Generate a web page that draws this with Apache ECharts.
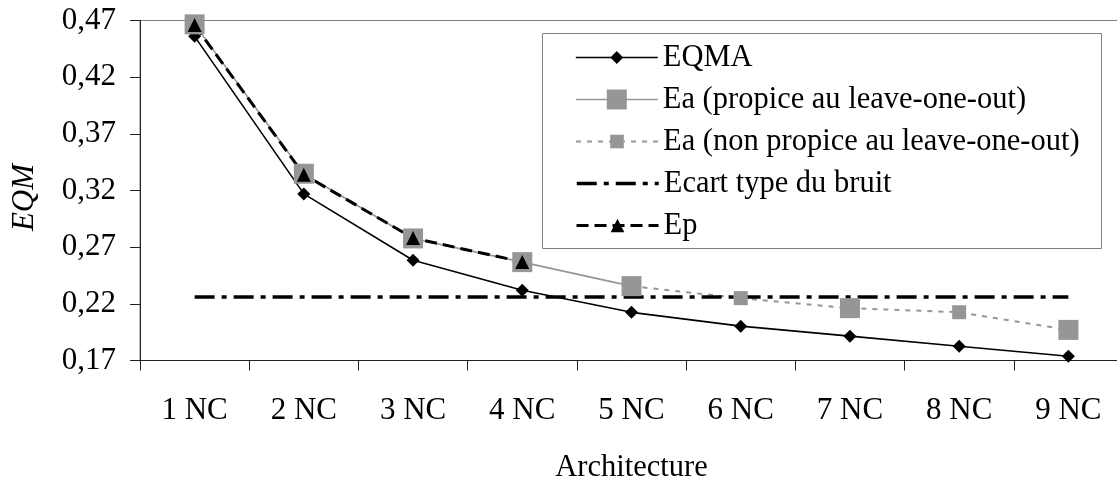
<!DOCTYPE html>
<html>
<head>
<meta charset="utf-8">
<script src="https://cdn.jsdelivr.net/npm/echarts@6/dist/echarts.min.js"></script>
<style>
  html, body { margin: 0; padding: 0; background: #fff; }
  #chart { width: 1117px; height: 482px; }
</style>
</head>
<body>
<div id="chart"></div>
<script>
// ---- data ----
const categories = ['1 NC', '2 NC', '3 NC', '4 NC', '5 NC', '6 NC', '7 NC', '8 NC', '9 NC'];
const eqma = [0.456, 0.317, 0.2585, 0.232, 0.2125, 0.2003, 0.1915, 0.1826, 0.1738];
const eaPropice = [0.4666, 0.3348, 0.2777, 0.2568, 0.2356, null, 0.2162, null, 0.197];
const eaNonPropice = [null, null, null, null, 0.2356, 0.225, 0.2162, 0.2126, 0.197];
const ecartBruit = [0.226, 0.226, 0.226, 0.226, 0.226, 0.226, 0.226, 0.226, 0.226];
const ep = [0.466, 0.334, 0.278, 0.257, null, null, null, null, null];
const seriesNames = ['EQMA', 'Ea (propice au leave-one-out)', 'Ea (non propice au leave-one-out)', 'Ecart type du bruit', 'Ep'];
const yMin = 0.17, yMax = 0.47, yStep = 0.05;

const FONT = 'Liberation Serif';
const GRAY = '#969696';

const chart = echarts.init(document.getElementById('chart'), null, { renderer: 'canvas' });

const legendCenters = [57, 99, 141, 183, 225];
const legendItemHeights = [16, 25, 17, 17, 17];
const legends = seriesNames.map((n, i) => {
  const lg = {
    data: [n],
    orient: 'vertical',
    left: 575,
    top: legendCenters[i] - 15,
    padding: 0,
    itemWidth: 82,
    itemHeight: legendItemHeights[i],
    selectedMode: false,
    lineStyle: { width: 'inherit' },
    textStyle: { fontFamily: FONT, fontSize: 30.5, color: '#000', lineHeight: 30 }
  };
  if (i === 3) {
    lg.data = [{ name: n, itemStyle: { color: 'rgba(0,0,0,0)', borderWidth: 0, opacity: 0 } }];
  }
  return lg;
});

const option = {
  animation: false,
  backgroundColor: '#fff',
  grid: {
    left: 140, top: 20.5, right: -6, bottom: 121.5,
    containLabel: false,
    outerBoundsMode: 'none',
    show: true, borderColor: '#808080', borderWidth: 1, backgroundColor: 'transparent'
  },
  graphic: [{
    type: 'rect', z: 3,
    shape: { x: 542.5, y: 33.5, width: 559, height: 215 },
    style: { fill: '#fff', stroke: '#808080', lineWidth: 1 }
  }],
  legend: legends,
  xAxis: {
    type: 'category',
    data: categories,
    boundaryGap: true,
    name: 'Architecture',
    nameLocation: 'middle',
    nameGap: 92,
    nameTextStyle: { fontFamily: FONT, fontSize: 30.5, color: '#000' },
    axisLine: { lineStyle: { color: '#222', width: 1 } },
    axisTick: { show: true, inside: false, length: 10, interval: 0, lineStyle: { color: '#222' } },
    axisLabel: { interval: 0, margin: 35, fontFamily: FONT, fontSize: 31, color: '#000' },
    splitLine: { show: false }
  },
  yAxis: {
    type: 'value',
    min: yMin, max: yMax, interval: yStep,
    name: 'EQM',
    nameLocation: 'middle',
    nameGap: 100,
    nameTextStyle: { fontFamily: FONT, fontSize: 31, fontStyle: 'italic', color: '#000', padding: [0, 14, 0, 0] },
    axisLine: { show: true, lineStyle: { color: '#222', width: 1 } },
    axisTick: { show: true, inside: false, length: 10, lineStyle: { color: '#222' } },
    axisLabel: {
      margin: 24, fontFamily: FONT, fontSize: 31, color: '#000',
      formatter: v => v.toFixed(2).replace('.', ',')
    },
    splitLine: { show: false }
  },
  series: [
    {
      name: seriesNames[0], type: 'line', data: eqma,
      symbol: 'diamond', symbolSize: 13, showAllSymbol: true,
      lineStyle: { color: '#000', width: 1.6 },
      itemStyle: { color: '#000', borderWidth: 0 }
    },
    {
      name: seriesNames[1], type: 'line', data: eaPropice, connectNulls: false,
      symbol: 'rect', symbolSize: 20, showAllSymbol: true,
      lineStyle: { color: GRAY, width: 1.6 },
      itemStyle: { color: GRAY, borderWidth: 0 }
    },
    {
      name: seriesNames[2], type: 'line', data: eaNonPropice,
      symbol: 'rect', symbolSize: 14, showAllSymbol: true,
      lineStyle: { color: GRAY, width: 2, type: [5, 6] },
      itemStyle: { color: GRAY, borderWidth: 0 }
    },
    {
      name: seriesNames[3], type: 'line', data: ecartBruit,
      symbol: 'none', showSymbol: false,
      lineStyle: { color: '#000', width: 3.5, type: [20, 7, 5, 7] },
      itemStyle: { color: '#000' }
    },
    {
      name: seriesNames[4], type: 'line', data: ep,
      symbol: 'triangle', symbolSize: 14, showAllSymbol: true,
      lineStyle: { color: '#000', width: 3, type: [12, 6] },
      itemStyle: { color: '#000', borderWidth: 0 }
    }
  ]
};
chart.setOption(option);
</script>
</body>
</html>
